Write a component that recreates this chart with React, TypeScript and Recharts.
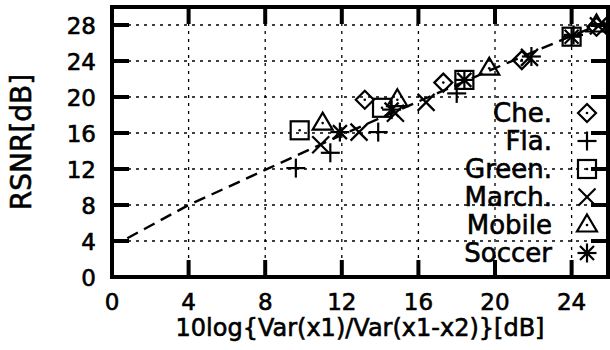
import { ScatterChart, Scatter, XAxis, YAxis, CartesianGrid, Label } from 'recharts'

const xTicks = [0, 4, 8, 12, 16, 20, 24]
const yTicks = [0, 4, 8, 12, 16, 20, 24, 28]
const X_MAX = 25.9
const Y_MAX = 30

// dashed reference curve
const fitCurve: [number, number][] = [
  [0.8, 4.3], [4, 8.0], [8, 11.9], [12, 15.8], [16, 19.5], [20, 23.2], [24, 26.8], [25.9, 28.4],
]

// measured sequences
const che: [number, number][] = [[13.2, 19.7], [17.3, 21.6], [21.4, 24.1], [25.3, 27.8]]
const fla: [number, number][] = [[9.6, 12.1], [11.4, 13.8], [13.9, 16.1], [18.0, 20.4], [21.9, 24.5], [24.1, 26.9]]
const green: [number, number][] = [[9.8, 16.3], [14.1, 18.8], [18.4, 21.9], [24.0, 26.7]]
const march: [number, number][] = [[10.9, 14.7], [12.9, 16.1], [14.8, 18.2], [16.4, 19.4], [21.8, 24.4], [25.4, 27.9]]
const mobile: [number, number][] = [[11.0, 17.1], [14.9, 19.7], [19.7, 23.2], [25.3, 28.0]]
const soccer: [number, number][] = [[11.9, 16.1], [14.6, 18.6], [18.4, 21.9], [24.0, 26.7]]

const toPts = (arr: [number, number][]) => arr.map(([x, y]) => ({ x, y }))

const FONT = '"DejaVu Sans", "Liberation Sans", Arial, sans-serif'
const INK = '#000'
const SW = 2.2
const TL = 17 // tick length, px
const TW = 4 // tick width, px

type P = { cx?: number; cy?: number }

const Dot = ({ cx, cy }: { cx: number; cy: number }) => <circle cx={cx} cy={cy} r={1.3} fill={INK} />

function Diamond({ cx = 0, cy = 0 }: P) {
  const r = 9
  return (
    <g>
      <polygon points={`${cx},${cy - r} ${cx + r},${cy} ${cx},${cy + r} ${cx - r},${cy}`} fill="none" stroke={INK} strokeWidth={SW} />
      <Dot cx={cx} cy={cy} />
    </g>
  )
}

function Plus({ cx = 0, cy = 0 }: P) {
  const r = 9.5
  return (
    <g stroke={INK} strokeWidth={SW}>
      <line x1={cx - r} y1={cy} x2={cx + r} y2={cy} />
      <line x1={cx} y1={cy - r} x2={cx} y2={cy + r} />
    </g>
  )
}

function Square({ cx = 0, cy = 0 }: P) {
  const r = 9
  return (
    <g>
      <rect x={cx - r} y={cy - r} width={2 * r} height={2 * r} fill="none" stroke={INK} strokeWidth={SW} />
      <Dot cx={cx} cy={cy} />
    </g>
  )
}

function Cross({ cx = 0, cy = 0 }: P) {
  const r = 8.5
  return (
    <g stroke={INK} strokeWidth={SW}>
      <line x1={cx - r} y1={cy - r} x2={cx + r} y2={cy + r} />
      <line x1={cx - r} y1={cy + r} x2={cx + r} y2={cy - r} />
    </g>
  )
}

function Triangle({ cx = 0, cy = 0 }: P) {
  return (
    <g>
      <polygon points={`${cx},${cy - 10.5} ${cx + 10},${cy + 6.5} ${cx - 10},${cy + 6.5}`} fill="none" stroke={INK} strokeWidth={SW} />
      <Dot cx={cx} cy={cy} />
    </g>
  )
}

function Star({ cx = 0, cy = 0 }: P) {
  const r = 9.5
  const d = 7
  return (
    <g stroke={INK} strokeWidth={SW}>
      <line x1={cx - r} y1={cy} x2={cx + r} y2={cy} />
      <line x1={cx} y1={cy - r} x2={cx} y2={cy + r} />
      <line x1={cx - d} y1={cy - d} x2={cx + d} y2={cy + d} />
      <line x1={cx - d} y1={cy + d} x2={cx + d} y2={cy - d} />
    </g>
  )
}

const series = [
  { name: 'Che.', data: che, Shape: Diamond },
  { name: 'Fla.', data: fla, Shape: Plus },
  { name: 'Green.', data: green, Shape: Square },
  { name: 'March.', data: march, Shape: Cross },
  { name: 'Mobile', data: mobile, Shape: Triangle },
  { name: 'Soccer', data: soccer, Shape: Star },
]

// frame corners, and anchor points for the inward tick marks on each side
const frame = [{ x: 0, y: 0 }, { x: X_MAX, y: 0 }, { x: X_MAX, y: Y_MAX }, { x: 0, y: Y_MAX }, { x: 0, y: 0 }]
const bottomTicks = xTicks.map((x) => ({ x, y: 0 }))
const topTicks = xTicks.map((x) => ({ x, y: Y_MAX }))
const leftTicks = yTicks.map((y) => ({ x: 0, y }))
const rightTicks = yTicks.map((y) => ({ x: X_MAX, y }))

const UpTick = ({ cx = 0, cy = 0 }: P) => <rect x={cx - TW / 2} y={cy - TL} width={TW} height={TL} fill={INK} />
const DownTick = ({ cx = 0, cy = 0 }: P) => <rect x={cx - TW / 2} y={cy} width={TW} height={TL} fill={INK} />
const RightwardTick = ({ cx = 0, cy = 0 }: P) => <rect x={cx} y={cy - TW / 2} width={TL} height={TW} fill={INK} />
const LeftwardTick = ({ cx = 0, cy = 0 }: P) => <rect x={cx - TL} y={cy - TW / 2} width={TL} height={TW} fill={INK} />

const textStyle = { fontFamily: FONT, fontSize: 23, fill: INK, stroke: INK, strokeWidth: 0.6 }

function BottomTick({ x, y, payload }: any) {
  return <text x={x} y={y + 33} textAnchor="middle" {...textStyle}>{payload.value}</text>
}

function LeftTick({ x, y, payload }: any) {
  return <text x={x - 16} y={y + 8.5} textAnchor="end" {...textStyle}>{payload.value}</text>
}

function Key() {
  return (
    <div style={{ position: 'absolute', left: 250, top: 99, width: 357, fontFamily: FONT, fontSize: 26, WebkitTextStroke: '0.6px black' }}>
      {series.map(({ name, Shape }) => (
        <div key={name} style={{ display: 'flex', justifyContent: 'flex-end', alignItems: 'center', height: 28 }}>
          <span style={{ lineHeight: '28px', marginRight: 15 }}>{name}</span>
          <svg width={40} height={28} style={{ overflow: 'visible' }}>
            <Shape cx={20} cy={14} />
          </svg>
        </div>
      ))}
    </div>
  )
}

const noMark = () => <g />

export default function App() {
  return (
    <div style={{ position: 'absolute', left: 0, top: 0 }}>
      <ScatterChart width={610} height={350} margin={{ top: 7, right: 2, bottom: 0, left: 0 }}>
        <CartesianGrid stroke={INK} strokeWidth={1.3} strokeDasharray="3 5" />
        <XAxis type="number" dataKey="x" domain={[0, X_MAX]} ticks={xTicks} interval={0}
          height={73} tickSize={0} tickMargin={0} tick={(p: any) => <BottomTick {...p} />}
          axisLine={false} tickLine={false}>
          <Label value="10log{Var(x1)/Var(x1-x2)}[dB]" position="insideBottom" offset={14}
            style={{ fontFamily: FONT, fontSize: 24, fill: INK, stroke: INK, strokeWidth: 0.6 }} />
        </XAxis>
        <YAxis type="number" dataKey="y" domain={[0, Y_MAX]} ticks={yTicks} interval={0}
          width={112} tickSize={0} tickMargin={0} tick={(p: any) => <LeftTick {...p} />}
          axisLine={false} tickLine={false}>
          <Label value="RSNR[dB]" angle={-90} position="insideLeft" offset={21}
            style={{ fontFamily: FONT, fontSize: 28, fill: INK, stroke: INK, strokeWidth: 0.6, textAnchor: 'middle' }} />
        </YAxis>
        <Scatter data={frame} line={{ stroke: INK, strokeWidth: 4, strokeLinejoin: 'miter', strokeLinecap: 'square' }}
          lineType="joint" shape={noMark} isAnimationActive={false} />
        <Scatter data={bottomTicks} shape={(p: any) => <UpTick cx={p.cx} cy={p.cy} />} isAnimationActive={false} />
        <Scatter data={topTicks} shape={(p: any) => <DownTick cx={p.cx} cy={p.cy} />} isAnimationActive={false} />
        <Scatter data={leftTicks} shape={(p: any) => <RightwardTick cx={p.cx} cy={p.cy} />} isAnimationActive={false} />
        <Scatter data={rightTicks} shape={(p: any) => <LeftwardTick cx={p.cx} cy={p.cy} />} isAnimationActive={false} />
        <Scatter data={toPts(fitCurve)} line={{ stroke: INK, strokeWidth: 2.4, strokeDasharray: '12 7' }}
          lineType="joint" shape={noMark} isAnimationActive={false} />
        {series.map(({ name, data, Shape }) => (
          <Scatter key={name} name={name} data={toPts(data)} shape={(p: any) => <Shape cx={p.cx} cy={p.cy} />}
            isAnimationActive={false} />
        ))}
      </ScatterChart>
      <Key />
    </div>
  )
}
